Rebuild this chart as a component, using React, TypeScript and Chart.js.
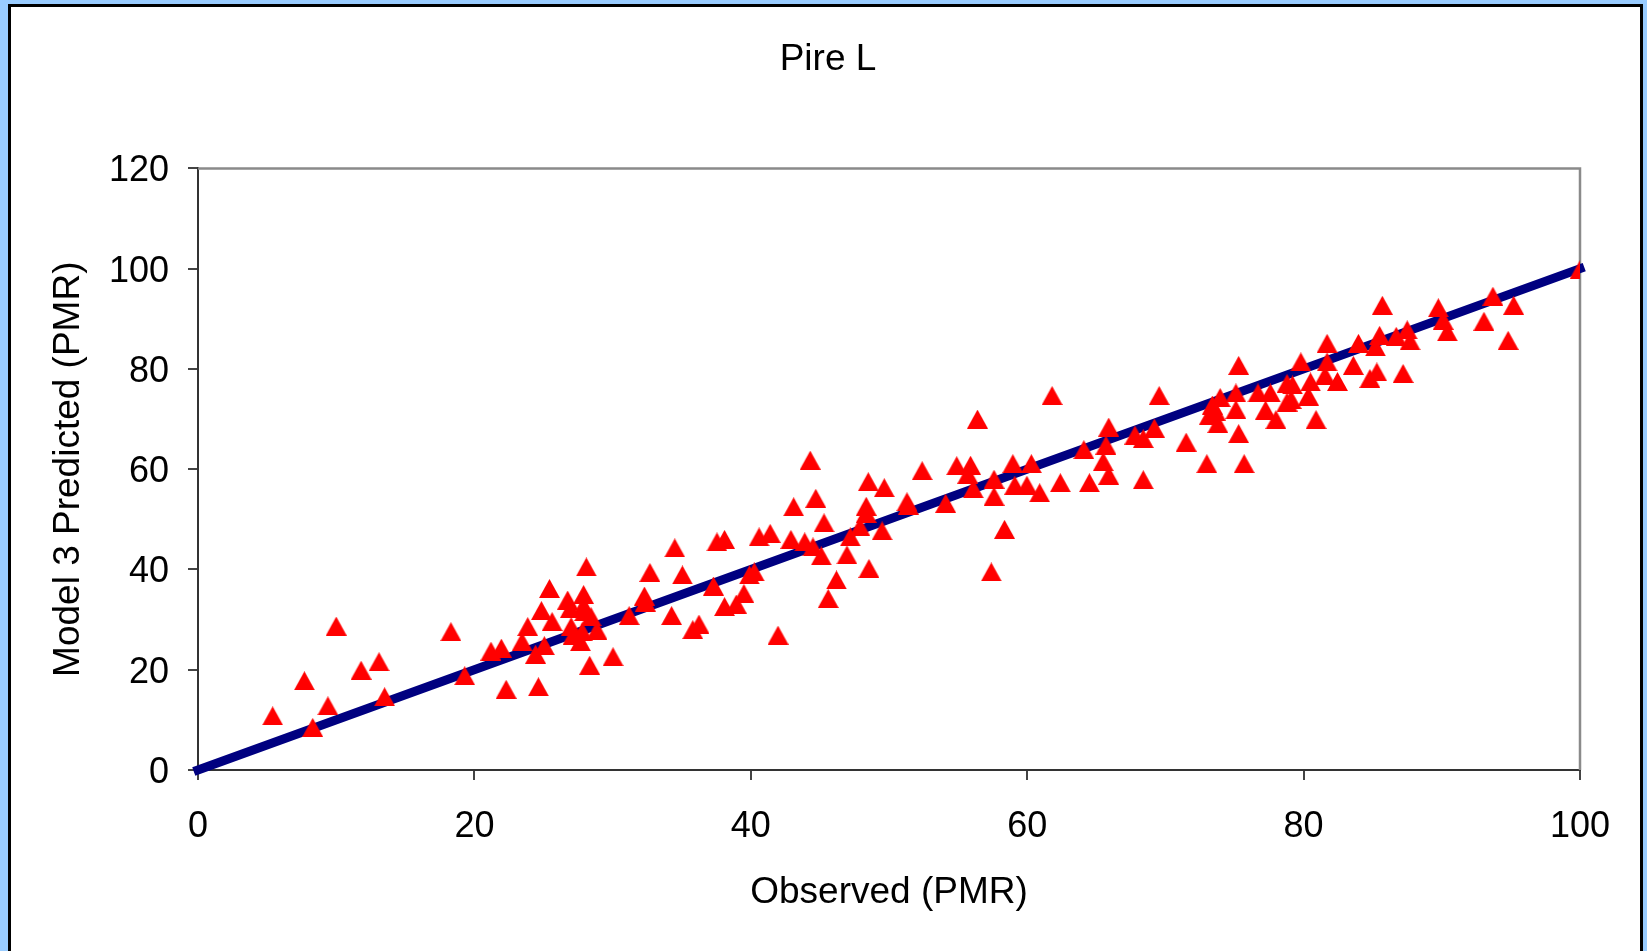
import React, { useEffect, useRef } from "react";
import { Chart, registerables } from "chart.js";

Chart.register(...registerables);

const TITLE = "Pire L";
const X_TITLE = "Observed (PMR)";
const Y_TITLE = "Model 3 Predicted (PMR)";

const xTicks = [0, 20, 40, 60, 80, 100];
const yTicks = [0, 20, 40, 60, 80, 100, 120];

// 1:1 line
const fitX = [0, 100];
const fitY = [0, 100];

const observed = [
  5.4, 7.7, 8.3, 9.4, 10.0, 11.8, 13.1, 13.5, 18.3, 19.3,
  21.2, 21.95, 22.3, 23.45, 23.86, 24.43, 24.63, 24.85, 25.06, 25.43,
  25.62, 26.75, 26.94, 27.0, 27.14, 27.67, 27.8, 27.9, 28.1, 27.98,
  27.9, 28.44, 28.87, 28.34, 30.03, 31.2, 32.3, 32.37, 32.7, 34.27,
  34.5, 35.05, 35.8, 36.25, 37.3, 37.55, 38.1, 38.1, 38.95, 39.5,
  39.9, 40.25, 40.6, 41.4, 41.97, 43.1, 42.9, 43.9, 44.3, 44.7,
  44.5, 45.1, 45.3, 45.6, 46.2, 46.96, 47.2, 47.9, 48.35, 48.5,
  48.55, 48.35, 49.66, 49.5, 51.3, 51.4, 52.4, 54.1, 54.9, 55.9,
  55.7, 56.1, 56.4, 57.6, 57.6, 57.4, 58.36, 58.96, 59.1, 59.98,
  60.3, 60.9, 62.4, 61.8, 64.1, 64.5, 65.9, 65.7, 65.5, 65.9,
  67.8, 68.4, 69.2, 68.4, 69.55, 71.5, 73.0, 73.4, 73.2, 73.8,
  73.96, 73.6, 75.1, 75.1, 75.3, 75.3, 75.7, 76.7, 77.25, 77.6,
  78.0, 78.8, 79.2, 78.8, 79.1, 79.8, 80.35, 80.5, 80.9, 81.55,
  81.7, 81.7, 82.45, 83.6, 83.97, 84.8, 85.3, 85.7, 85.5, 85.2,
  86.7, 87.2, 87.5, 87.7, 89.75, 90.1, 90.4, 93.05, 93.7, 95.2,
  94.8, 100,
];

const predicted = [
  10.8, 17.8, 8.5, 12.8, 28.7, 19.9, 21.6, 14.6, 27.6, 18.8,
  23.7, 24.3, 16.1, 25.6, 28.6, 23.1, 16.6, 31.8, 24.8, 36.2,
  29.6, 33.9, 32.2, 28.6, 26.9, 25.6, 27.6, 35.0, 40.5, 31.6,
  32.8, 30.6, 27.9, 20.9, 22.6, 30.8, 34.7, 33.5, 39.4, 30.8,
  44.3, 38.9, 28.0, 29.1, 36.7, 45.5, 46.0, 32.6, 33.1, 35.2,
  38.9, 39.5, 46.5, 47.2, 26.9, 52.5, 46.0, 45.5, 61.8, 54.2,
  44.5, 42.7, 49.3, 34.2, 37.9, 42.9, 46.5, 48.5, 52.6, 57.5,
  40.2, 51.2, 56.3, 47.7, 53.5, 52.8, 59.7, 53.2, 60.7, 60.8,
  59.0, 56.1, 70.0, 58.0, 54.6, 39.5, 48.0, 61.1, 56.8, 56.8,
  61.1, 55.3, 57.3, 74.7, 63.9, 57.3, 68.4, 64.8, 61.5, 58.8,
  66.8, 66.1, 68.2, 57.9, 74.7, 65.4, 61.1, 72.8, 70.8, 69.1,
  74.3, 71.6, 75.2, 71.9, 80.7, 67.1, 61.1, 75.2, 71.8, 75.2,
  69.9, 77.1, 76.8, 73.4, 73.9, 81.4, 74.6, 77.4, 69.9, 78.7,
  81.4, 85.1, 77.5, 80.7, 85.1, 78.1, 79.4, 92.7, 86.7, 84.4,
  86.5, 79.1, 87.8, 85.6, 92.2, 89.7, 87.4, 89.5, 94.5, 92.7,
  85.7, 99.8,
];

const FONT = "'Liberation Sans', Arial, Helvetica, sans-serif";

function makeTriangle(): HTMLCanvasElement {
  const c = document.createElement("canvas");
  c.width = 21;
  c.height = 19;
  const ctx = c.getContext("2d")!;
  ctx.fillStyle = "#ff0000";
  ctx.beginPath();
  ctx.moveTo(10.5, 0);
  ctx.lineTo(21, 19);
  ctx.lineTo(0, 19);
  ctx.closePath();
  ctx.fill();
  return c;
}

const framePlugin = {
  id: "plotFrame",
  beforeDatasetsDraw(chart: any) {
    const { ctx, chartArea } = chart;
    const { left, top, right, bottom } = chartArea;
    ctx.save();
    ctx.strokeStyle = "#8a8a8a";
    ctx.lineWidth = 2.5;
    ctx.beginPath();
    ctx.moveTo(left, top);
    ctx.lineTo(right, top);
    ctx.lineTo(right, bottom);
    ctx.stroke();
    ctx.restore();
  },
};

export default function App() {
  const ref = useRef<HTMLCanvasElement | null>(null);

  useEffect(() => {
    if (!ref.current) return;
    const tri = makeTriangle();
    const chart = new Chart(ref.current, {
      type: "scatter",
      data: {
        datasets: [
          {
            label: "Predicted",
            data: observed.map((x, i) => ({ x, y: predicted[i] })),
            pointStyle: tri as any,
            pointRadius: 10,
            backgroundColor: "#ff0000",
            borderColor: "#ff0000",
            order: 1,
          },
          {
            type: "line",
            label: "1:1",
            data: fitX.map((x, i) => ({ x, y: fitY[i] })),
            borderColor: "#000080",
            borderWidth: 9,
            borderCapStyle: "square",
            pointRadius: 0,
            fill: false,
            clip: false as any,
            order: 2,
          } as any,
        ],
      },
      options: {
        responsive: false,
        animation: false,
        devicePixelRatio: 1,
        layout: { padding: { left: 9, right: 0, top: 0, bottom: 0 } },
        plugins: {
          legend: { display: false },
          tooltip: { enabled: false },
          title: {
            display: true,
            text: TITLE,
            color: "#000",
            font: { family: FONT, size: 37, weight: "normal" as any },
            padding: { top: 38, bottom: 86 },
          },
        },
        scales: {
          x: {
            type: "linear",
            min: 0,
            max: 100,
            afterBuildTicks: (s: any) => {
              s.ticks = xTicks.map((v) => ({ value: v }));
            },
            afterFit: (s: any) => {
              s.height = 181;
            },
            ticks: {
              color: "#000",
              font: { family: FONT, size: 36 },
              padding: 25,
              maxRotation: 0,
              autoSkip: false,
            },
            grid: {
              display: true,
              drawOnChartArea: false,
              drawTicks: true,
              tickLength: 10,
              color: "#444",
              lineWidth: 2,
            },
            border: { display: true, color: "#333", width: 2 },
            title: {
              display: true,
              text: X_TITLE,
              color: "#000",
              font: { family: FONT, size: 37 },
              padding: { top: 0, bottom: 36 },
            },
          },
          y: {
            type: "linear",
            min: 0,
            max: 120,
            afterBuildTicks: (s: any) => {
              s.ticks = yTicks.map((v) => ({ value: v }));
            },
            afterFit: (s: any) => {
              s.width = 189;
            },
            ticks: {
              color: "#000",
              font: { family: FONT, size: 36 },
              padding: 19,
              labelOffset: 3,
              autoSkip: false,
            },
            grid: {
              display: true,
              drawOnChartArea: false,
              drawTicks: true,
              tickLength: 10,
              color: "#444",
              lineWidth: 2,
            },
            border: { display: true, color: "#333", width: 2 },
            title: {
              display: true,
              text: Y_TITLE,
              color: "#000",
              font: { family: FONT, size: 37 },
              padding: { top: 38, bottom: 0 },
            },
          },
          y2: {
            type: "linear",
            position: "right",
            display: true,
            afterFit: (s: any) => {
              s.width = 67;
            },
            ticks: { display: false },
            grid: { display: false, drawTicks: false },
            border: { display: false },
          },
        },
      },
      plugins: [framePlugin],
    });
    return () => chart.destroy();
  }, []);

  return (
    <div
      style={{
        position: "fixed",
        left: 0,
        top: 0,
        width: 1647,
        height: 951,
        background: "#99ccff",
        overflow: "hidden",
      }}
    >
      <div
        style={{
          position: "absolute",
          left: 8,
          top: 4,
          width: 1635,
          height: 1000,
          background: "#ffffff",
          border: "3px solid #000",
          boxSizing: "border-box",
        }}
      />
      <div style={{ position: "absolute", left: 0, top: 0, width: 1647, height: 951 }}>
        <canvas ref={ref} width={1647} height={951} style={{ display: "block" }} />
      </div>
    </div>
  );
}
